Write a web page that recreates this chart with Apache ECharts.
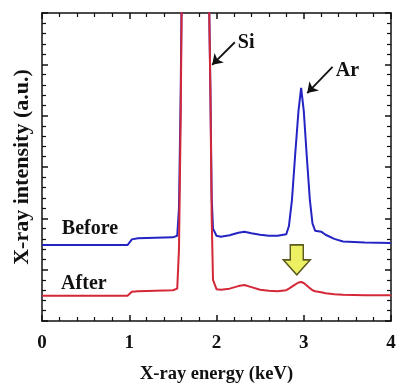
<!DOCTYPE html>
<html>
<head>
<meta charset="utf-8">
<script src="https://cdn.jsdelivr.net/npm/echarts@6/dist/echarts.min.js"></script>
<style>
html,body{margin:0;padding:0;background:#fff;}
#chart{width:397px;height:385px;}
</style>
</head>
<body>
<div id="chart"></div>
<script>
// X-ray energy (keV)
var energy = [0, 0.5, 0.98, 1.03, 1.1, 1.3, 1.5, 1.55, 1.57, 1.59, 1.61, 1.90, 1.93, 1.945, 1.96, 2.0, 2.05, 2.15, 2.25, 2.32, 2.4, 2.5, 2.6, 2.7, 2.8, 2.83, 2.865, 2.9, 2.94, 2.97, 3.0, 3.035, 3.07, 3.1, 3.13, 3.2, 3.25, 3.35, 3.45, 3.7, 4.0];
// Intensity before (a.u.)
var before = [14.8, 14.8, 14.8, 15.9, 16.1, 16.2, 16.3, 16.6, 22, 45, 80, 80, 45, 24, 18, 16.6, 16.4, 16.7, 17.2, 17.4, 17.1, 16.8, 16.6, 16.6, 16.9, 18.5, 23.6, 32, 41, 45.4, 41, 32, 23.6, 19, 17.6, 17.4, 16.8, 16.0, 15.5, 15.3, 15.2];
// Intensity after (a.u.)
var after = [4.9, 4.9, 4.9, 5.7, 5.8, 5.9, 6.0, 6.3, 14, 40, 80, 80, 45, 20, 8, 6.2, 6.1, 6.3, 6.8, 7.0, 6.6, 6.1, 5.9, 5.8, 6.0, 6.3, 6.7, 7.1, 7.5, 7.6, 7.4, 6.9, 6.4, 6.0, 5.8, 5.6, 5.4, 5.2, 5.1, 5.0, 5.0];
var xTicks = [0, 1, 2, 3, 4];

function pairs(xs, ys){ return xs.map(function(x,i){ return [x, ys[i]]; }); }

var FONT = 'Liberation Serif';
var chart = echarts.init(document.getElementById('chart'), null, {renderer:'canvas'});

function lbl(text, coord){
  return {coord: coord, symbol:'circle', symbolSize:0.1,
    label:{show:true, position:'inside', formatter:text, color:'#111', fontFamily:FONT, fontWeight:'bold', fontSize:20, align:'center', verticalAlign:'middle'}};
}

var axisCommon = {
  type:'value', min:0, max:4, interval:1,
  axisLine:{show:true, onZero:false, lineStyle:{color:'#111', width:1.5}},
  axisTick:{show:true, inside:true, length:6, lineStyle:{color:'#111', width:1.5}},
  minorTick:{show:true, splitNumber:5, length:4, lineStyle:{color:'#111', width:1.2}},
  splitLine:{show:false}, minorSplitLine:{show:false}
};
var yCommon = {
  type:'value', min:0, max:60, interval:10,
  axisLine:{show:true, onZero:false, lineStyle:{color:'#111', width:1.5}},
  axisTick:{show:true, inside:true, length:6, lineStyle:{color:'#111', width:1.5}},
  minorTick:{show:true, splitNumber:5, length:4, lineStyle:{color:'#111', width:1.2}},
  axisLabel:{show:false},
  splitLine:{show:false}, minorSplitLine:{show:false}
};

var option = {
  animation:false,
  backgroundColor:'#fff',
  grid:{left:42, right:6, top:13, bottom:64, containLabel:false, outerBoundsMode:'none'},
  xAxis:[
    Object.assign({}, axisCommon, {
      position:'bottom',
      name:'X-ray energy (keV)', nameLocation:'middle', nameGap:44,
      nameTextStyle:{color:'#111', fontFamily:FONT, fontWeight:'bold', fontSize:18.5},
      axisLabel:{show:true, margin:13, color:'#111', fontFamily:FONT, fontWeight:'bold', fontSize:19,
        formatter:function(v){ return xTicks.indexOf(v) >= 0 ? String(v) : ''; }}
    }),
    Object.assign({}, axisCommon, {position:'top', axisLabel:{show:false}})
  ],
  yAxis:[
    Object.assign({}, yCommon, {
      position:'left',
      name:'X-ray intensity (a.u.)', nameLocation:'middle', nameGap:9,
      nameTextStyle:{color:'#111', fontFamily:FONT, fontWeight:'bold', fontSize:22}
    }),
    Object.assign({}, yCommon, {position:'right'})
  ],
  series:[
    {
      name:'Before', type:'line', xAxisIndex:0, yAxisIndex:0,
      data:pairs(energy, before), showSymbol:false, clip:true,
      lineStyle:{color:'#2424c4', width:2}, itemStyle:{color:'#2424c4'},
      markPoint:{silent:true, data:[lbl('Before',[0.55,18.0]), lbl('Si',[2.34,54.2]), lbl('Ar',[3.50,48.8])]},
      markLine:{silent:true, symbol:['none','arrow'], symbolSize:10,
        lineStyle:{color:'#111', width:1.8, type:'solid'}, label:{show:false},
        data:[
          [{coord:[2.21,54.3]},{coord:[1.95,49.9]}],
          [{coord:[3.33,49.5]},{coord:[3.04,44.4]}]
        ]}
    },
    {
      name:'After', type:'line', xAxisIndex:0, yAxisIndex:0,
      data:pairs(energy, after), showSymbol:false, clip:true,
      lineStyle:{color:'#d42838', width:2}, itemStyle:{color:'#d42838'},
      markPoint:{silent:true, data:[
        lbl('After',[0.48,7.3]),
        {coord:[2.92,11.9], symbol:'path://M7,0 L20,0 L20,15 L27,15 L13.5,30 L0,15 L7,15 Z', symbolSize:[27,30],
          itemStyle:{color:'#eef064', borderColor:'#5a5a1e', borderWidth:1.5}, label:{show:false}}
      ]}
    }
  ]
};
chart.setOption(option);
</script>
</body>
</html>
